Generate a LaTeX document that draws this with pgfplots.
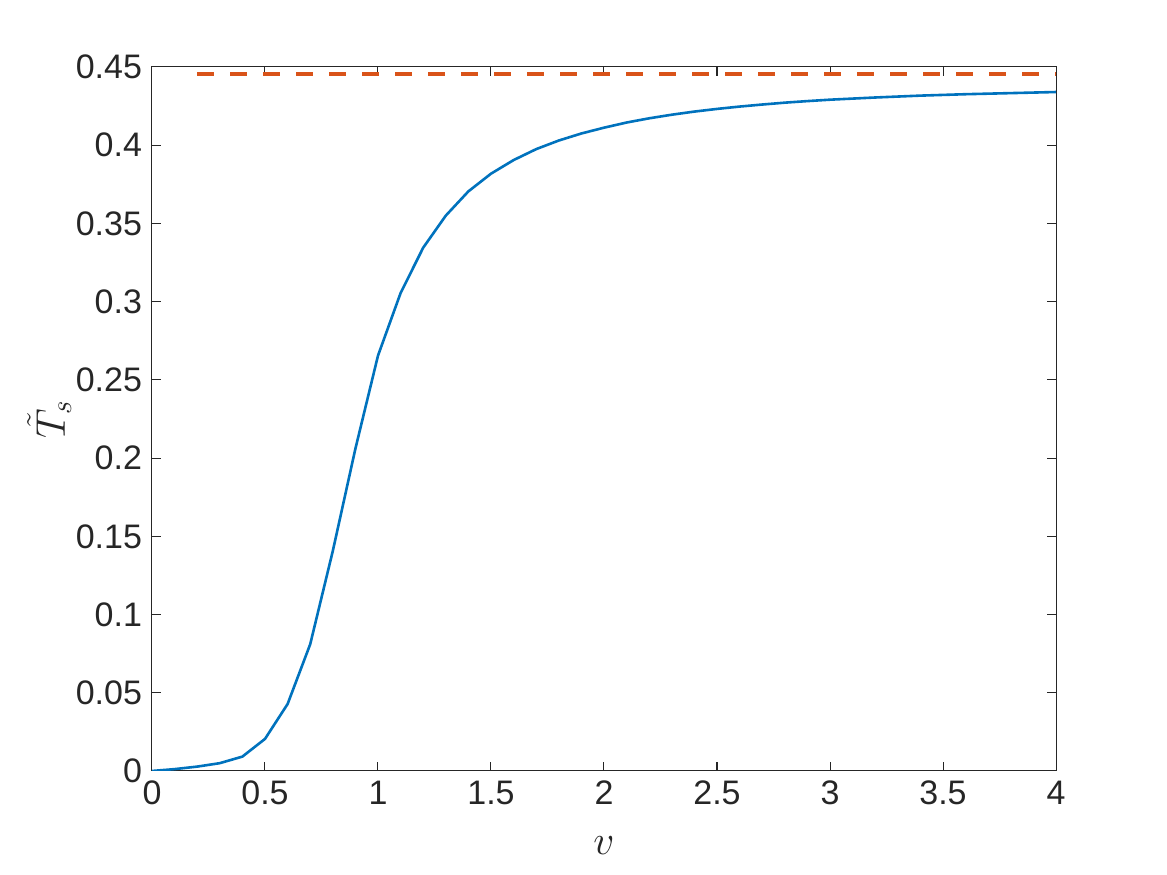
\documentclass[border=0pt]{standalone}
\usepackage{pgfplots}
\pgfplotsset{compat=1.18}
\usepackage{fontspec}
\setmainfont{Liberation Sans}
\usetikzlibrary{calc}
\definecolor{mblue}{RGB}{0,114,189}
\definecolor{morange}{RGB}{217,83,25}
\definecolor{axgray}{RGB}{38,38,38}
\begin{document}
\begin{tikzpicture}
\begin{axis}[
  name=ax,
  scale only axis,
  width=452pt, height=352pt,
  xmin=0, xmax=4, ymin=0, ymax=0.45,
  xtick={0,0.5,...,4}, ytick={0,0.05,...,0.45},
  tick align=inside,
  major tick length=4.5pt,
  axis line style={axgray, line width=0.5pt},
  every tick/.style={axgray, line width=0.5pt},
  tick label style={font=\fontsize{17}{19}\selectfont, text=axgray},
  /pgf/number format/assume math mode=true,
  yticklabel style={/pgf/number format/fixed, /pgf/number format/precision=2, xshift=-1.5pt},
  xticklabel style={/pgf/number format/fixed, yshift=-1.5pt},
  scaled y ticks=false,
  xlabel={$v$},
  ylabel={$\tilde{T}_s$},
  label style={font=\fontsize{22}{24}\selectfont, text=axgray},
  xlabel style={yshift=-9pt},
  ylabel style={yshift=-4.5pt},
]
\addplot[mblue, line width=1.3pt] coordinates {
(0,0) (0.1,0.0012) (0.2,0.0028) (0.3,0.0050) (0.4,0.0092) (0.5,0.0205)
(0.6,0.0428) (0.7,0.0810) (0.8,0.1406) (0.9,0.2060) (1.0,0.2655)
(1.1,0.3055) (1.2,0.3345) (1.3,0.3550) (1.4,0.3705) (1.5,0.3818)
(1.6,0.3905) (1.7,0.3975) (1.8,0.4030) (1.9,0.4075) (2.0,0.4112)
(2.1,0.4145) (2.2,0.4172) (2.3,0.4195) (2.4,0.4215) (2.5,0.4232)
(2.6,0.4247) (2.7,0.4260) (2.8,0.4272) (2.9,0.4282) (3.0,0.4291)
(3.2,0.4305) (3.4,0.4317) (3.6,0.4326) (3.8,0.4333) (4.0,0.4340)
};
\addplot[morange, line width=2pt, dash pattern=on 8.5pt off 8pt] coordinates {
(0.2,0.4455) (4.0,0.4455)
};
\end{axis}
\path[use as bounding box] ($(ax.south west)+(-76pt,-52pt)$) rectangle ($(ax.north east)+(55.5pt,33.5pt)$);
\end{tikzpicture}
\end{document}
